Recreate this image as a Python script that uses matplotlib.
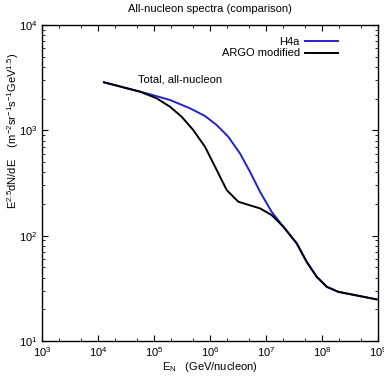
import numpy as np
import matplotlib.pyplot as plt
from matplotlib.ticker import LogLocator, NullFormatter

plt.rcParams['font.family'] = ['Liberation Sans', 'DejaVu Sans']

# log10(E) and log10(E^2.5 dN/dE)
h4a_logE = [4.107, 4.75, 4.929, 5.286, 5.643, 5.911, 6.12, 6.327, 6.536, 6.714,
            6.893, 7.10, 7.31, 7.548, 7.726, 7.905, 8.084, 8.29, 8.976]
h4a_logF = [3.456, 3.367, 3.342, 3.288, 3.209, 3.136, 3.05, 2.939, 2.78, 2.607,
            2.417, 2.227, 2.085, 1.927, 1.752, 1.61, 1.515, 1.467, 1.395]

argo_logE = [4.107, 4.75, 5.048, 5.286, 5.494, 5.70, 5.911, 6.12, 6.298, 6.506,
             6.893, 7.10, 7.31, 7.548, 7.726, 7.905, 8.084, 8.29, 8.976]
argo_logF = [3.456, 3.367, 3.304, 3.224, 3.129, 3.003, 2.844, 2.623, 2.433, 2.322,
             2.259, 2.196, 2.085, 1.927, 1.752, 1.61, 1.515, 1.467, 1.395]

fig = plt.figure(figsize=(3.84, 3.78), dpi=100)
ax = fig.add_axes([42/384, 1 - 341/378, 336/384, 316/378])

ax.plot(10**np.array(h4a_logE), 10**np.array(h4a_logF), color='#2222cc', lw=1.4, label='H4a')
ax.plot(10**np.array(argo_logE), 10**np.array(argo_logF), color='black', lw=1.4, label='ARGO modified')

ax.set_xscale('log')
ax.set_yscale('log')
ax.set_xlim(1e3, 1e9)
ax.set_ylim(1e1, 1e4)

ax.xaxis.set_major_locator(LogLocator(base=10, numticks=20))
ax.xaxis.set_minor_locator(LogLocator(base=10, subs=(2, 5), numticks=20))
ax.xaxis.set_minor_formatter(NullFormatter())
ax.yaxis.set_minor_locator(LogLocator(base=10, subs=np.arange(2, 10), numticks=20))
ax.yaxis.set_minor_formatter(NullFormatter())

ax.tick_params(which='both', direction='in', top=True, right=True, labelsize=8, pad=3)
ax.tick_params(which='major', length=4, width=0.8)
ax.tick_params(which='minor', length=2, width=0.6)
for s in ax.spines.values():
    s.set_linewidth(1.0)

ax.set_title('All-nucleon spectra (comparison)', fontsize=8, pad=9)
ax.set_xlabel(r'E$_\mathregular{N}$   (GeV/nucleon)', fontsize=8, labelpad=1)
fig.text(13/384, 1 - 131/378,
         r'E$^\mathregular{2.5}$dN/dE    (m$^\mathregular{-2}$sr$^\mathregular{-1}$s$^\mathregular{-1}$GeV$^\mathregular{1.5}$)',
         fontsize=8, rotation=90, ha='center', va='center')

ax.text(10**4.714, 10**3.478, 'Total, all-nucleon', fontsize=8, ha='left', va='center')

leg = ax.legend(loc='upper right', bbox_to_anchor=(0.893, 0.975), frameon=False, fontsize=8,
                markerfirst=False, handlelength=2.9, handletextpad=0.5, labelspacing=0.1,
                borderaxespad=0)
for t in leg.get_texts():
    t.set_ha('right')

fig.savefig('out.png', dpi=100)
